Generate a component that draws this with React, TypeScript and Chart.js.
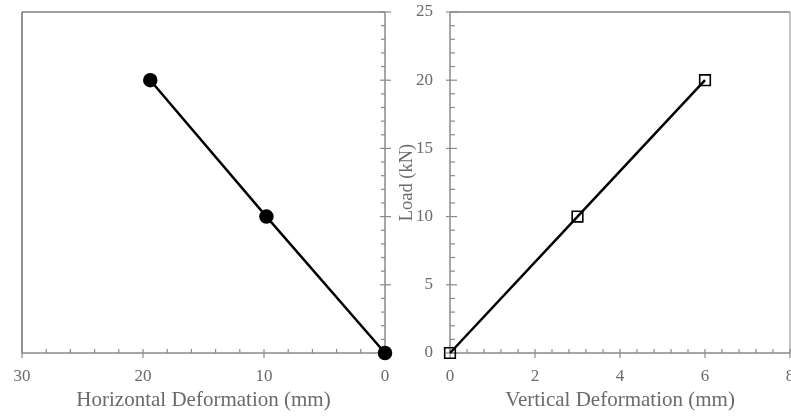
import React, { useEffect, useRef } from 'react';
import { Chart, registerables } from 'chart.js';

Chart.register(...registerables);

// ---- data ----
const horizontalDeformation = [0, 9.8, 19.4];
const horizontalLoad = [0, 10, 20];
const verticalDeformation = [0, 3, 6];
const verticalLoad = [0, 10, 20];

// ---- axis ranges / ticks ----
const hDefRange = [0, 30];
const hDefMajor = 10;
const hDefMinor = 2;
const loadRange = [0, 25];
const loadMajor = 5;
const loadMinor = 1;
const vDefRange = [0, 8];
const vDefMajor = 2;
const vDefMinor = 0.4;

const FONT = "'Liberation Serif', 'Times New Roman', serif";
const AXIS_COLOR = '#8a8a8a';
const TEXT_COLOR = '#6a6a6a';

type AxisSpec = {
  scale: 'x' | 'y';
  side: 'bottom' | 'left' | 'right';
  min: number;
  max: number;
  minor: number;
  major: number;
  minorLen: number;
  majorIn: number;
  majorOut: number;
};

const axisDecor = {
  id: 'axisDecor',
  beforeDatasetsDraw(chart: any, _args: any, opts: any) {
    const { ctx, chartArea: a } = chart;
    ctx.save();
    ctx.lineCap = 'butt';
    (opts.frame || []).forEach((f: any) => {
      ctx.strokeStyle = f.color;
      ctx.lineWidth = f.width;
      ctx.beginPath();
      if (f.side === 'top') { ctx.moveTo(a.left, a.top); ctx.lineTo(a.right, a.top); }
      if (f.side === 'left') { ctx.moveTo(a.left, a.top); ctx.lineTo(a.left, a.bottom); }
      if (f.side === 'right') { ctx.moveTo(a.right, a.top); ctx.lineTo(a.right, a.bottom); }
      ctx.stroke();
    });
    (opts.axes || []).forEach((ax: AxisSpec) => {
      const sc = chart.scales[ax.scale];
      ctx.strokeStyle = AXIS_COLOR;
      ctx.lineWidth = 1.5;
      ctx.beginPath();
      if (ax.side === 'bottom') { ctx.moveTo(a.left, a.bottom); ctx.lineTo(a.right, a.bottom); }
      if (ax.side === 'left') { ctx.moveTo(a.left, a.top); ctx.lineTo(a.left, a.bottom); }
      if (ax.side === 'right') { ctx.moveTo(a.right, a.top); ctx.lineTo(a.right, a.bottom); }
      ctx.stroke();
      ctx.lineWidth = 1.2;
      const n = Math.round((ax.max - ax.min) / ax.minor);
      for (let i = 0; i <= n; i++) {
        const v = ax.min + i * ax.minor;
        const r = v / ax.major;
        const isMajor = Math.abs(r - Math.round(r)) < 1e-6;
        const p = sc.getPixelForValue(v);
        const inLen = isMajor ? ax.majorIn : ax.minorLen;
        const outLen = isMajor ? ax.majorOut : 0;
        ctx.beginPath();
        if (ax.side === 'bottom') {
          ctx.moveTo(p, a.bottom + outLen); ctx.lineTo(p, a.bottom - inLen);
        } else if (ax.side === 'left') {
          ctx.moveTo(a.left - outLen, p); ctx.lineTo(a.left + inLen, p);
        } else {
          ctx.moveTo(a.right + outLen, p); ctx.lineTo(a.right - inLen, p);
        }
        ctx.stroke();
      }
    });
    ctx.restore();
  },
};

function fixSize(size: { width?: number; height?: number }) {
  return (scale: any) => {
    if (size.width !== undefined) scale.width = size.width;
    if (size.height !== undefined) scale.height = size.height;
    scale.paddingLeft = 0;
    scale.paddingRight = 0;
    scale.paddingTop = 0;
    scale.paddingBottom = 0;
  };
}

function LeftChart() {
  const ref = useRef<HTMLCanvasElement>(null);
  useEffect(() => {
    const chart = new Chart(ref.current as HTMLCanvasElement, {
      type: 'line',
      data: {
        datasets: [
          {
            data: horizontalDeformation.map((x, i) => ({ x, y: horizontalLoad[i] })),
            borderColor: '#000',
            borderWidth: 2.5,
            backgroundColor: '#000',
            pointBackgroundColor: '#000',
            pointBorderColor: '#000',
            pointRadius: 6,
            pointStyle: 'circle',
            tension: 0,
            clip: false as any,
          },
        ],
      },
      options: {
        responsive: false,
        animation: false,
        layout: { autoPadding: false, padding: { left: 22, top: 12, right: 0, bottom: 0 } },
        plugins: {
          legend: { display: false },
          tooltip: { enabled: false },
          axisDecor: {
            frame: [
              { side: 'top', color: '#a0a0a0', width: 1.8 },
              { side: 'left', color: '#6e6e6e', width: 1.5 },
            ],
            axes: [
              { scale: 'x', side: 'bottom', min: hDefRange[0], max: hDefRange[1], minor: hDefMinor, major: hDefMajor, minorLen: 4, majorIn: 4, majorOut: 5 },
              { scale: 'y', side: 'right', min: loadRange[0], max: loadRange[1], minor: loadMinor, major: loadMajor, minorLen: 4, majorIn: 5, majorOut: 6 },
            ],
          },
        } as any,
        scales: {
          x: {
            type: 'linear',
            position: 'bottom',
            reverse: true,
            min: hDefRange[0],
            max: hDefRange[1],
            grid: { display: false, drawTicks: false },
            border: { display: false },
            ticks: { stepSize: hDefMajor, autoSkip: false, maxRotation: 0, padding: 13, color: TEXT_COLOR, font: { family: FONT, size: 17 } },
            title: { display: true, text: 'Horizontal Deformation (mm)', color: TEXT_COLOR, font: { family: FONT, size: 21 }, padding: { top: 0, bottom: 4 } },
            afterFit: fixSize({ height: 64 }),
          },
          y: {
            type: 'linear',
            position: 'right',
            min: loadRange[0],
            max: loadRange[1],
            grid: { display: false, drawTicks: false },
            border: { display: false },
            ticks: { display: false, stepSize: loadMajor },
            afterFit: fixSize({ width: 15 }),
          },
        },
      },
      plugins: [axisDecor],
    });
    return () => chart.destroy();
  }, []);
  return <canvas ref={ref} width={400} height={417} style={{ position: 'absolute', left: 0, top: 0, display: 'block' }} />;
}

function RightChart() {
  const ref = useRef<HTMLCanvasElement>(null);
  useEffect(() => {
    const chart = new Chart(ref.current as HTMLCanvasElement, {
      type: 'line',
      data: {
        datasets: [
          {
            data: verticalDeformation.map((x, i) => ({ x, y: verticalLoad[i] })),
            borderColor: '#000',
            borderWidth: 2.5,
            backgroundColor: 'rgba(0,0,0,0)',
            pointBackgroundColor: 'rgba(0,0,0,0)',
            pointBorderColor: '#000',
            pointBorderWidth: 1.6,
            pointRadius: 7.5,
            pointStyle: 'rect',
            tension: 0,
            clip: false as any,
          },
        ],
      },
      options: {
        responsive: false,
        animation: false,
        layout: { autoPadding: false, padding: { left: 0, top: 12, right: 1, bottom: 0 } },
        plugins: {
          legend: { display: false },
          tooltip: { enabled: false },
          axisDecor: {
            frame: [
              { side: 'top', color: '#a0a0a0', width: 1.8 },
              { side: 'right', color: '#b0b0b0', width: 1.5 },
            ],
            axes: [
              { scale: 'x', side: 'bottom', min: vDefRange[0], max: vDefRange[1], minor: vDefMinor, major: vDefMajor, minorLen: 4, majorIn: 4, majorOut: 5 },
              { scale: 'y', side: 'left', min: loadRange[0], max: loadRange[1], minor: loadMinor, major: loadMajor, minorLen: 5, majorIn: 7, majorOut: 4 },
            ],
          },
        } as any,
        scales: {
          x: {
            type: 'linear',
            position: 'bottom',
            min: vDefRange[0],
            max: vDefRange[1],
            grid: { display: false, drawTicks: false },
            border: { display: false },
            ticks: { stepSize: vDefMajor, autoSkip: false, maxRotation: 0, padding: 13, color: TEXT_COLOR, font: { family: FONT, size: 17 } },
            title: { display: true, text: 'Vertical Deformation (mm)', color: TEXT_COLOR, font: { family: FONT, size: 21 }, padding: { top: 0, bottom: 4 } },
            afterFit: fixSize({ height: 64 }),
          },
          y: {
            type: 'linear',
            position: 'left',
            min: loadRange[0],
            max: loadRange[1],
            grid: { display: false, drawTicks: false },
            border: { display: false },
            ticks: { stepSize: loadMajor, autoSkip: false, padding: 17, color: TEXT_COLOR, font: { family: FONT, size: 17 } },
            title: { display: true, text: 'Load (kN)', color: TEXT_COLOR, font: { family: FONT, size: 18.5 }, padding: { top: 1, bottom: 0 } },
            afterFit: fixSize({ width: 55 }),
          },
        },
      },
      plugins: [axisDecor],
    });
    return () => chart.destroy();
  }, []);
  return <canvas ref={ref} width={396} height={417} style={{ position: 'absolute', left: 395, top: 0, display: 'block' }} />;
}

export default function App() {
  return (
    <div style={{ position: 'fixed', left: 0, top: 0, width: 791, height: 417, background: '#fff', overflow: 'hidden' }}>
      <LeftChart />
      <RightChart />
    </div>
  );
}
